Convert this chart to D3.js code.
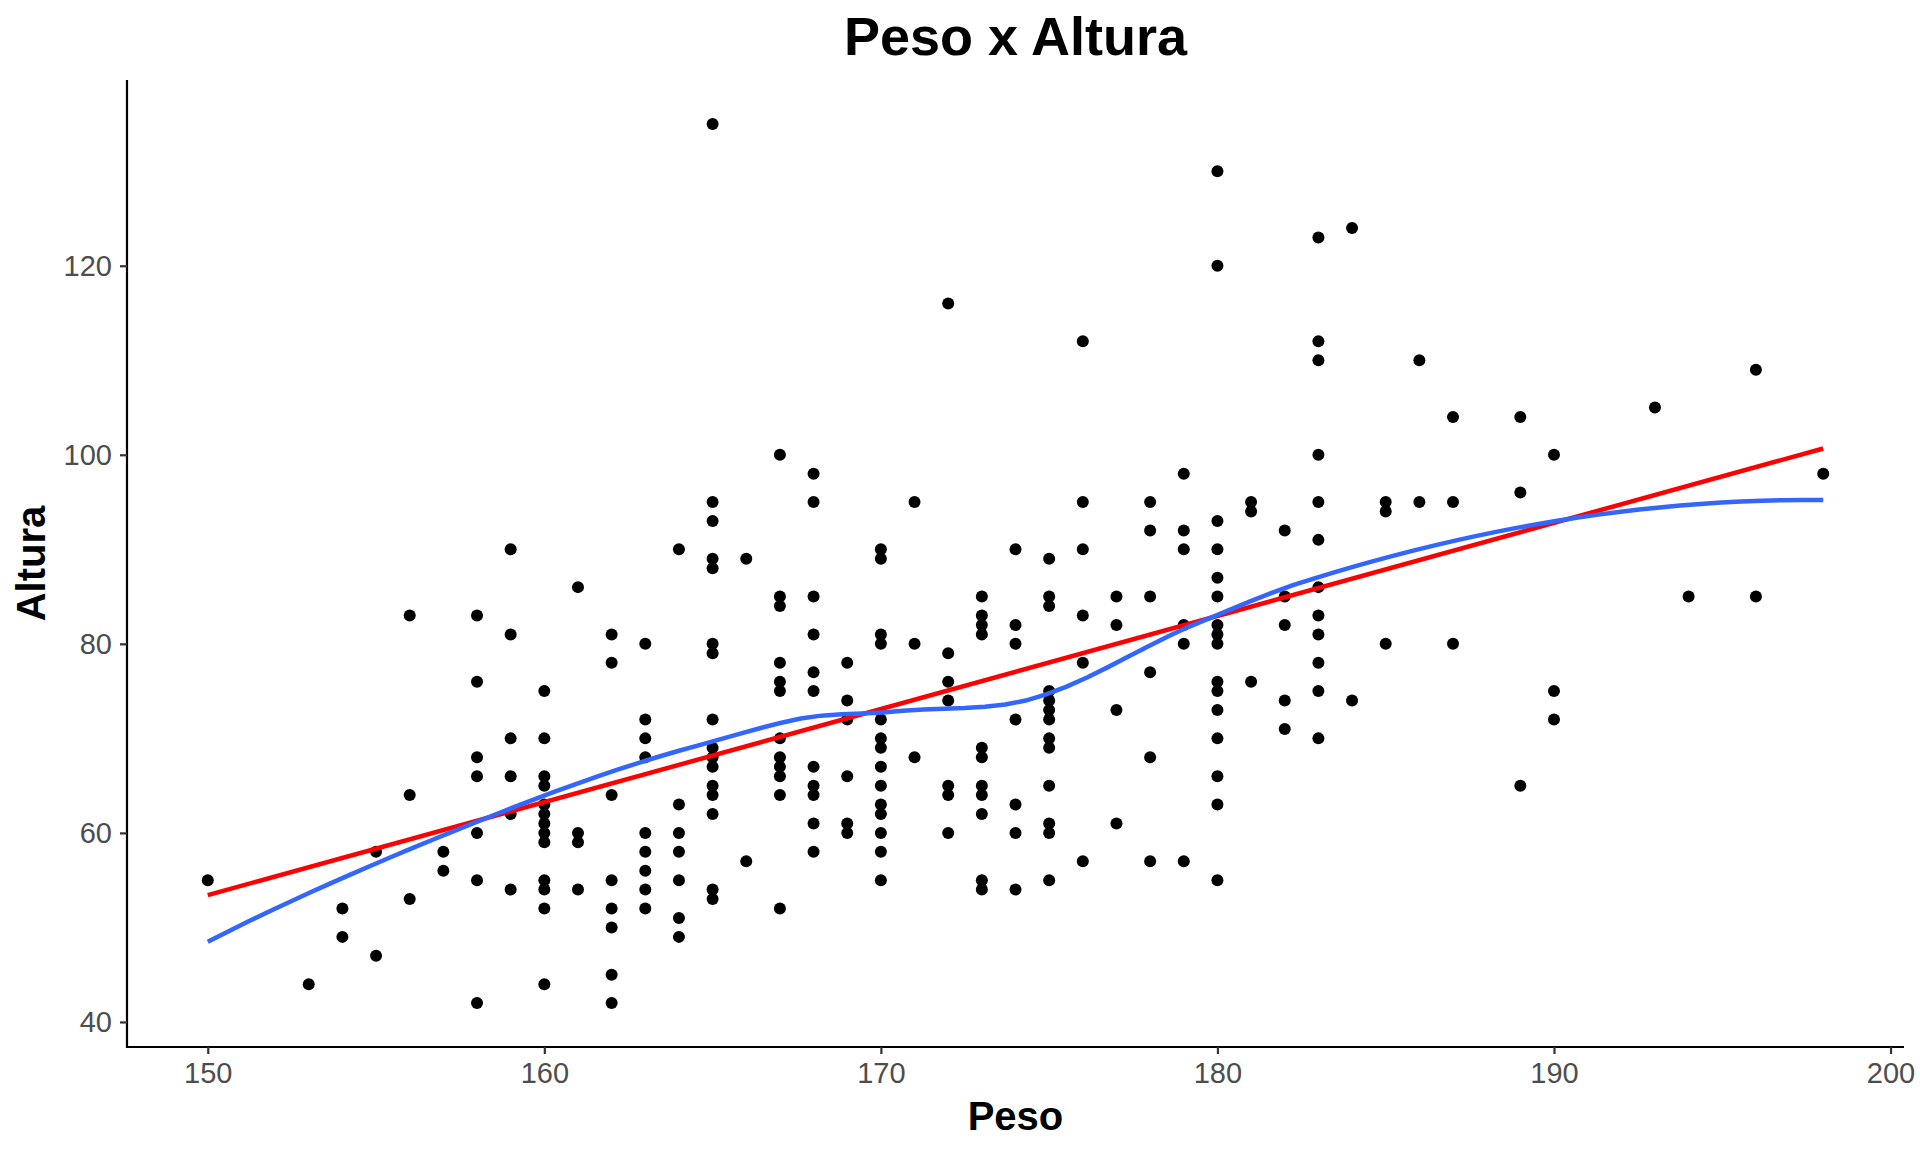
<!DOCTYPE html>
<html>
<head>
<meta charset="utf-8">
<script src="https://cdn.jsdelivr.net/npm/d3@7"></script>
<style>
  body { margin: 0; background: #ffffff; }
  text { font-family: "Liberation Sans", Arial, sans-serif; }
</style>
</head>
<body>
<svg id="chart" width="1920" height="1152"></svg>
<script>
// Peso (x) and the Altura values observed at each Peso
const pesos = [150, 153, 154, 155, 156, 157, 158, 159, 160, 161, 162, 163, 164, 165, 166, 167, 168, 169,
    170, 171, 172, 173, 174, 175, 176, 177, 178, 179, 180, 181, 182, 183, 184, 185, 186, 187, 189, 190,
    193, 194, 196, 198];
const alturas = [
    [55], [44], [52, 49], [58, 47], [83, 64, 53], [58, 56],
    [83, 76, 68, 66, 60, 55, 42],
    [90, 81, 70, 66, 62, 54],
    [75, 70, 66, 65, 63, 62, 61, 60, 59, 55, 54, 52, 44],
    [86, 60, 59, 54],
    [81, 78, 64, 55, 52, 50, 45, 42],
    [80, 72, 70, 68, 60, 58, 56, 54, 52],
    [90, 63, 60, 58, 55, 51, 49],
    [135, 95, 93, 89, 88, 80, 79, 72, 69, 68, 67, 65, 64, 62, 54, 53],
    [89, 57],
    [100, 85, 84, 78, 76, 75, 70, 68, 67, 66, 64, 52],
    [98, 95, 85, 81, 77, 75, 67, 65, 64, 61, 58],
    [78, 74, 72, 66, 61, 60],
    [90, 89, 81, 80, 72, 70, 69, 67, 65, 63, 62, 60, 58, 55],
    [95, 80, 68],
    [116, 79, 76, 74, 65, 64, 60],
    [85, 83, 82, 81, 69, 68, 65, 64, 62, 55, 54],
    [90, 82, 80, 72, 63, 60, 54],
    [89, 85, 84, 75, 74, 73, 72, 70, 69, 65, 61, 60, 55],
    [112, 95, 90, 83, 78, 57],
    [85, 82, 73, 61],
    [95, 92, 85, 77, 68, 57],
    [98, 92, 90, 82, 80, 57],
    [130, 120, 93, 90, 87, 85, 82, 81, 80, 76, 75, 73, 70, 66, 63, 55],
    [95, 94, 76],
    [92, 85, 82, 74, 71],
    [123, 112, 110, 100, 95, 91, 86, 83, 81, 78, 75, 70],
    [124, 74],
    [95, 94, 80],
    [110, 95],
    [104, 95, 80],
    [104, 96, 65],
    [100, 75, 72],
    [105], [85], [109, 85], [98]
];
const xTicks = [150, 160, 170, 180, 190, 200];
const yTicks = [40, 60, 80, 100, 120];

function main() {
    const svg = d3.select('#chart');
    const W = 1920, H = 1152;
    const panel = { left: 127, right: 1904, top: 80, bottom: 1047 };

    // flatten into points
    const data = [];
    pesos.forEach(function (p, i) {
        alturas[i].forEach(function (a) { data.push({ x: p, y: a }); });
    });

    svg.append('rect').attr('width', W).attr('height', H).attr('fill', '#ffffff');

    // ggplot-like 5% expansion
    const xExt = d3.extent(data, d => d.x);
    const yExt = d3.extent(data, d => d.y);
    const xPad = (xExt[1] - xExt[0]) * 0.05;
    const yPad = (yExt[1] - yExt[0]) * 0.05;
    const xScale = d3.scaleLinear().domain([xExt[0] - xPad, xExt[1] + xPad]).range([panel.left, panel.right]);
    const yScale = d3.scaleLinear().domain([yExt[0] - yPad, yExt[1] + yPad]).range([panel.bottom, panel.top]);

    // points
    svg.append('g').selectAll('circle')
        .data(data)
        .enter().append('circle')
        .attr('cx', d => xScale(d.x))
        .attr('cy', d => yScale(d.y))
        .attr('r', 6)
        .attr('fill', '#000000');

    // linear fit (least squares)
    const mx = d3.mean(data, d => d.x), my = d3.mean(data, d => d.y);
    const sxy = d3.sum(data, d => (d.x - mx) * (d.y - my));
    const sxx = d3.sum(data, d => (d.x - mx) * (d.x - mx));
    const slope = sxy / sxx, icpt = my - slope * mx;
    const lmLine = xExt.map(v => ({ x: v, y: icpt + slope * v }));

    // local quadratic fit at x0 (span 0.75, tricube), returns [value, slope]
    const span = 0.75;
    function localFit(x0) {
        const n = data.length;
        const q = Math.floor(n * span);
        const dists = data.map(d => Math.abs(d.x - x0)).sort((a, b) => a - b);
        const dmax = dists[q - 1];
        let s = [0, 0, 0, 0, 0], t = [0, 0, 0];
        data.forEach(function (d) {
            const u = Math.abs(d.x - x0) / dmax;
            if (u >= 1) return;
            const w = Math.pow(1 - u * u * u, 3);
            const dx = d.x - x0;
            let p = 1;
            for (let k = 0; k < 5; k++) { s[k] += w * p; p *= dx; }
            t[0] += w * d.y; t[1] += w * d.y * dx; t[2] += w * d.y * dx * dx;
        });
        const A = [[s[0], s[1], s[2]], [s[1], s[2], s[3]], [s[2], s[3], s[4]]];
        const b = t.slice();
        for (let i = 0; i < 3; i++) {
            for (let j = i + 1; j < 3; j++) {
                const f = A[j][i] / A[i][i];
                for (let k = i; k < 3; k++) A[j][k] -= f * A[i][k];
                b[j] -= f * b[i];
            }
        }
        const c = [0, 0, 0];
        for (let i = 2; i >= 0; i--) {
            let v = b[i];
            for (let k = i + 1; k < 3; k++) v -= A[i][k] * c[k];
            c[i] = v / A[i][i];
        }
        return [c[0], c[1]];
    }

    // kd-tree vertices like R's loess surface = "interpolate" (cell = 0.2)
    const xs = data.map(d => d.x).sort((a, b) => a - b);
    const fc = Math.floor(data.length * span * 0.2);
    const mu = 0.005 * (xExt[1] - xExt[0]);
    const verts = [xExt[0] - mu, xExt[1] + mu];
    function split(l, u) {
        if (u - l + 1 <= fc) return;
        let m = Math.floor((l + u) / 2), off = 0, found = false;
        while (m + off < u && m + off >= l) {
            if (xs[m + off] !== xs[m + off + 1]) { m = m + off; found = true; break; }
            off = -off;
            if (off >= 0) off += 1;
        }
        if (!found) return;
        verts.push((xs[m] + xs[m + 1]) / 2);
        split(l, m);
        split(m + 1, u);
    }
    split(0, xs.length - 1);
    verts.sort((a, b) => a - b);
    const vfit = verts.map(v => localFit(v));

    // cubic Hermite between vertices
    function loessAt(x0) {
        let i = d3.bisectRight(verts, x0) - 1;
        i = Math.max(0, Math.min(verts.length - 2, i));
        const x1 = verts[i], x2 = verts[i + 1], h = x2 - x1;
        const t = (x0 - x1) / h;
        const h00 = 2 * t * t * t - 3 * t * t + 1, h10 = t * t * t - 2 * t * t + t;
        const h01 = -2 * t * t * t + 3 * t * t, h11 = t * t * t - t * t;
        return h00 * vfit[i][0] + h10 * h * vfit[i][1] + h01 * vfit[i + 1][0] + h11 * h * vfit[i + 1][1];
    }
    const grid = d3.range(80).map(i => xExt[0] + (xExt[1] - xExt[0]) * i / 79);
    const loessLine = grid.map(v => ({ x: v, y: loessAt(v) }));

    const line = d3.line().x(d => xScale(d.x)).y(d => yScale(d.y));
    svg.append('path').datum(lmLine)
        .attr('d', line).attr('fill', 'none')
        .attr('stroke', '#FF0000').attr('stroke-width', 4.5);
    svg.append('path').datum(loessLine)
        .attr('d', line).attr('fill', 'none')
        .attr('stroke', '#3366FF').attr('stroke-width', 4.5);

    // axes
    const xAxis = svg.append('g')
        .attr('transform', 'translate(0,' + panel.bottom + ')')
        .call(d3.axisBottom(xScale).tickValues(xTicks).tickSize(7).tickSizeOuter(0).tickPadding(8));
    const yAxis = svg.append('g')
        .attr('transform', 'translate(' + panel.left + ',0)')
        .call(d3.axisLeft(yScale).tickValues(yTicks).tickSize(7).tickSizeOuter(0).tickPadding(8));
    [xAxis, yAxis].forEach(function (ax) {
        ax.select('.domain').attr('stroke', '#000000').attr('stroke-width', 2.2);
        ax.selectAll('.tick line').attr('stroke', '#333333').attr('stroke-width', 2.2);
        ax.selectAll('.tick text')
            .attr('fill', '#4D4D4D')
            .style('font-size', '29px')
            .style('font-family', '"Liberation Sans", Arial, sans-serif');
    });
    // axis lines across the whole panel
    xAxis.select('.domain').attr('d', 'M' + (panel.left - 1) + ',0H' + panel.right);
    yAxis.select('.domain').attr('d', 'M0,' + panel.top + 'V' + (panel.bottom + 1));

    const cx = (panel.left + panel.right) / 2;
    svg.append('text')
        .attr('x', cx).attr('y', 55)
        .attr('text-anchor', 'middle')
        .attr('font-size', '54px').attr('font-weight', 'bold')
        .text('Peso x Altura');
    svg.append('text')
        .attr('x', cx).attr('y', 1130)
        .attr('text-anchor', 'middle')
        .attr('font-size', '40px').attr('font-weight', 'bold')
        .text('Peso');
    svg.append('text')
        .attr('transform', 'translate(45,' + ((panel.top + panel.bottom) / 2) + ') rotate(-90)')
        .attr('text-anchor', 'middle')
        .attr('font-size', '40px').attr('font-weight', 'bold')
        .text('Altura');
}
main();
</script>
</body>
</html>
